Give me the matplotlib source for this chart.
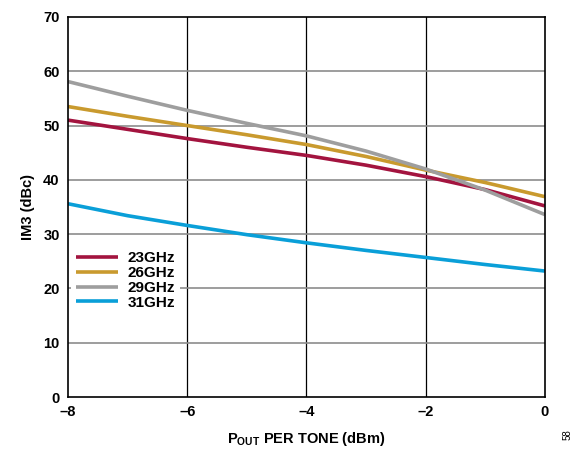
import matplotlib
matplotlib.use("Agg")
import matplotlib.pyplot as plt

plt.rcParams['font.family'] = ['Liberation Sans', 'DejaVu Sans']

pout = [-8, -7, -6, -5, -4, -3, -2, -1, 0]
im3_23 = [51.0, 49.3, 47.6, 46.0, 44.5, 42.7, 40.6, 38.2, 35.2]
im3_26 = [53.5, 51.7, 50.0, 48.3, 46.5, 44.3, 41.8, 39.5, 36.9]
im3_29 = [58.1, 55.4, 52.8, 50.4, 48.1, 45.3, 42.0, 38.1, 33.6]
im3_31 = [35.6, 33.4, 31.6, 29.9, 28.4, 27.0, 25.7, 24.4, 23.2]
labels = ["23GHz", "26GHz", "29GHz", "31GHz"]
colors = ["#A3143F", "#C99A2E", "#9E9E9E", "#0A9FD8"]

fig = plt.figure(figsize=(5.76, 4.49), dpi=100)
ax = fig.add_axes([0.118, 0.1158, 0.828, 0.8464])

for y, lab, c in zip([im3_23, im3_26, im3_29, im3_31], labels, colors):
    ax.plot(pout, y, color=c, lw=2.6, label=lab, solid_capstyle='butt')

ax.set_xlim(-8, 0)
ax.set_ylim(0, 70)
ax.set_xticks([-8, -6, -4, -2, 0])
ax.set_xticklabels(["\u20138", "\u20136", "\u20134", "\u20132", "0"])
ax.set_yticks(range(0, 71, 10))
for x in [-6, -4, -2]:
    ax.axvline(x, color="black", lw=0.9, zorder=0)
for yv in range(10, 70, 10):
    ax.axhline(yv, color="#8c8c8c", lw=1.2, zorder=0)
for s in ax.spines.values():
    s.set_color("black")
    s.set_linewidth(1.2)
ax.tick_params(axis='both', length=0, pad=6, labelsize=10.5)
for t in ax.get_xticklabels() + ax.get_yticklabels():
    t.set_fontweight('bold')

ax.set_xlabel(r"P$_{\mathregular{OUT}}$ PER TONE (dBm)", fontsize=10.5, fontweight='bold', labelpad=8)
ax.set_ylabel("IM3 (dBc)", fontsize=10.5, fontweight='bold', labelpad=6)

leg = ax.legend(loc='upper left', bbox_to_anchor=(0.0, 0.403), frameon=True, fancybox=False,
                edgecolor='none', facecolor='white', framealpha=1,
                prop={'weight': 'bold', 'size': 11}, handlelength=2.75, handletextpad=0.65,
                labelspacing=0.05, borderpad=0.3, borderaxespad=0.2)

fig.text(0.985, 0.02, "58", rotation=90, fontsize=7, ha='center', va='bottom')

fig.savefig("out.png", dpi=100)
